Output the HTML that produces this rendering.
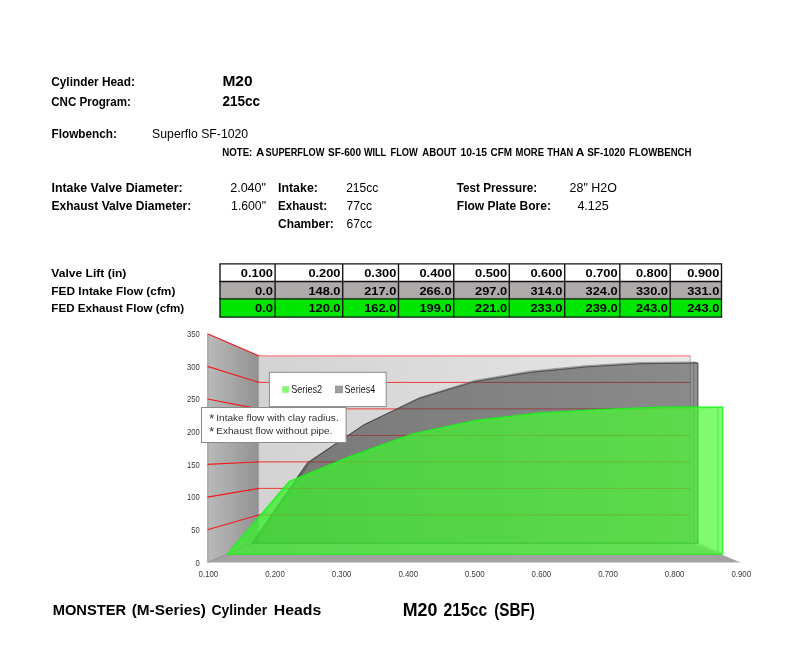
<!DOCTYPE html>
<html lang="en">
<head>
<meta charset="utf-8">
<title>M20 215cc (SBF) Flow Sheet</title>
<style>
html,body{margin:0;padding:0;background:#fff;}
body{width:800px;height:664px;position:relative;overflow:hidden;}
svg{position:absolute;left:0;top:0;display:block;will-change:transform;}
text{font-family:"Liberation Sans", Arial, sans-serif;}
.b{font-weight:bold;}
</style>
</head>
<body>
<svg width="800" height="664" viewBox="0 0 800 664">
<rect x="0" y="0" width="800" height="664" fill="#ffffff"/>
<g id="labels" fill="#000">
<text id="t0" class="b" x="51.20" y="86.00" font-size="13.0" textLength="83.70" lengthAdjust="spacingAndGlyphs">Cylinder Head:</text>
<text id="t1" class="b" x="51.20" y="105.70" font-size="13.0" textLength="79.70" lengthAdjust="spacingAndGlyphs">CNC Program:</text>
<text id="t2" class="b" x="222.40" y="86.10" font-size="14.5" textLength="30.20" lengthAdjust="spacingAndGlyphs">M20</text>
<text id="t3" class="b" x="222.40" y="105.70" font-size="14.5" textLength="37.60" lengthAdjust="spacingAndGlyphs">215cc</text>
<text id="t4" class="b" x="51.50" y="138.40" font-size="13.0" textLength="65.50" lengthAdjust="spacingAndGlyphs">Flowbench:</text>
<text id="t5" x="152.10" y="138.40" font-size="13.0" textLength="96.10" lengthAdjust="spacingAndGlyphs">Superflo SF-1020</text>
<text id="t6" class="b" y="156.40" font-size="10.4"><tspan x="222.30" textLength="30.00" lengthAdjust="spacingAndGlyphs">NOTE:</tspan> <tspan x="255.90" textLength="7.90" lengthAdjust="spacingAndGlyphs">A</tspan> <tspan x="265.60" textLength="58.90" lengthAdjust="spacingAndGlyphs">SUPERFLOW</tspan> <tspan x="328.00" textLength="33.00" lengthAdjust="spacingAndGlyphs">SF-600</tspan> <tspan x="364.00" textLength="22.00" lengthAdjust="spacingAndGlyphs">WILL</tspan> <tspan x="390.50" textLength="27.30" lengthAdjust="spacingAndGlyphs">FLOW</tspan> <tspan x="422.30" textLength="34.20" lengthAdjust="spacingAndGlyphs">ABOUT</tspan> <tspan x="460.50" textLength="26.50" lengthAdjust="spacingAndGlyphs">10-15</tspan> <tspan x="490.50" textLength="21.50" lengthAdjust="spacingAndGlyphs">CFM</tspan> <tspan x="515.50" textLength="28.50" lengthAdjust="spacingAndGlyphs">MORE</tspan> <tspan x="547.30" textLength="26.00" lengthAdjust="spacingAndGlyphs">THAN</tspan> <tspan x="575.80" textLength="8.20" lengthAdjust="spacingAndGlyphs">A</tspan> <tspan x="587.20" textLength="38.10" lengthAdjust="spacingAndGlyphs">SF-1020</tspan> <tspan x="629.00" textLength="62.50" lengthAdjust="spacingAndGlyphs">FLOWBENCH</tspan></text>
<text id="t7" class="b" x="51.50" y="191.90" font-size="13.0" textLength="131.10" lengthAdjust="spacingAndGlyphs">Intake Valve Diameter:</text>
<text id="t8" x="230.20" y="191.90" font-size="13.0" textLength="35.80" lengthAdjust="spacingAndGlyphs">2.040&quot;</text>
<text id="t9" class="b" x="278.00" y="191.90" font-size="13.0" textLength="39.90" lengthAdjust="spacingAndGlyphs">Intake:</text>
<text id="t10" x="346.20" y="191.90" font-size="13.0" textLength="32.00" lengthAdjust="spacingAndGlyphs">215cc</text>
<text id="t11" class="b" x="456.80" y="191.90" font-size="13.0" textLength="80.40" lengthAdjust="spacingAndGlyphs">Test Pressure:</text>
<text id="t12" x="569.60" y="191.90" font-size="13.0" textLength="47.30" lengthAdjust="spacingAndGlyphs">28&quot; H2O</text>
<text id="t13" class="b" x="51.50" y="210.00" font-size="13.0" textLength="139.80" lengthAdjust="spacingAndGlyphs">Exhaust Valve Diameter:</text>
<text id="t14" x="231.10" y="210.00" font-size="13.0" textLength="34.90" lengthAdjust="spacingAndGlyphs">1.600&quot;</text>
<text id="t15" class="b" x="278.00" y="210.00" font-size="13.0" textLength="49.00" lengthAdjust="spacingAndGlyphs">Exhaust:</text>
<text id="t16" x="346.50" y="210.00" font-size="13.0" textLength="25.50" lengthAdjust="spacingAndGlyphs">77cc</text>
<text id="t17" class="b" x="456.80" y="210.00" font-size="13.0" textLength="94.10" lengthAdjust="spacingAndGlyphs">Flow Plate Bore:</text>
<text id="t18" x="577.40" y="210.00" font-size="13.0" textLength="31.30" lengthAdjust="spacingAndGlyphs">4.125</text>
<text id="t19" class="b" x="278.00" y="227.60" font-size="13.0" textLength="55.80" lengthAdjust="spacingAndGlyphs">Chamber:</text>
<text id="t20" x="346.50" y="227.60" font-size="13.0" textLength="25.50" lengthAdjust="spacingAndGlyphs">67cc</text>
<text id="t21" class="b" x="51.30" y="276.80" font-size="11.2" textLength="75.10" lengthAdjust="spacingAndGlyphs">Valve Lift (in)</text>
<text id="t22" class="b" x="51.30" y="294.60" font-size="11.2" textLength="124.10" lengthAdjust="spacingAndGlyphs">FED Intake Flow (cfm)</text>
<text id="t23" class="b" x="51.30" y="312.20" font-size="11.2" textLength="132.85" lengthAdjust="spacingAndGlyphs">FED Exhaust Flow (cfm)</text>
<text id="t24" class="b" y="615.20" font-size="15.2"><tspan x="52.70" textLength="73.40" lengthAdjust="spacingAndGlyphs">MONSTER</tspan> <tspan x="131.70" textLength="74.20" lengthAdjust="spacingAndGlyphs">(M-Series)</tspan> <tspan x="211.50" textLength="55.70" lengthAdjust="spacingAndGlyphs">Cylinder</tspan> <tspan x="273.80" textLength="47.50" lengthAdjust="spacingAndGlyphs">Heads</tspan></text>
<text id="t25" class="b" y="615.50" font-size="18.2"><tspan x="402.70" textLength="34.60" lengthAdjust="spacingAndGlyphs">M20</tspan> <tspan x="443.50" textLength="43.80" lengthAdjust="spacingAndGlyphs">215cc</tspan> <tspan x="494.20" textLength="40.60" lengthAdjust="spacingAndGlyphs">(SBF)</tspan></text>
</g>
<g id="table">
<rect x="220.00" y="263.90" width="501.50" height="17.60" fill="#ffffff"/>
<rect x="220.00" y="281.50" width="501.50" height="17.30" fill="#aeaaaa"/>
<rect x="220.00" y="298.80" width="501.50" height="18.30" fill="#00e600"/>
<g stroke="#111" stroke-width="1.35" fill="none">
<line x1="219.35" y1="263.90" x2="722.15" y2="263.90"/>
<line x1="219.35" y1="281.50" x2="722.15" y2="281.50"/>
<line x1="219.35" y1="298.80" x2="722.15" y2="298.80"/>
<line x1="219.35" y1="317.10" x2="722.15" y2="317.10"/>
<line x1="220.00" y1="263.90" x2="220.00" y2="317.10"/>
<line x1="275.10" y1="263.90" x2="275.10" y2="317.10"/>
<line x1="342.70" y1="263.90" x2="342.70" y2="317.10"/>
<line x1="398.50" y1="263.90" x2="398.50" y2="317.10"/>
<line x1="453.75" y1="263.90" x2="453.75" y2="317.10"/>
<line x1="509.30" y1="263.90" x2="509.30" y2="317.10"/>
<line x1="564.70" y1="263.90" x2="564.70" y2="317.10"/>
<line x1="619.80" y1="263.90" x2="619.80" y2="317.10"/>
<line x1="670.20" y1="263.90" x2="670.20" y2="317.10"/>
<line x1="721.50" y1="263.90" x2="721.50" y2="317.10"/>
</g>
<g class="b" font-size="11.2" text-anchor="end" fill="#000">
<text x="272.90" y="276.70" textLength="32.10" lengthAdjust="spacingAndGlyphs">0.100</text>
<text x="340.50" y="276.70" textLength="32.10" lengthAdjust="spacingAndGlyphs">0.200</text>
<text x="396.30" y="276.70" textLength="32.10" lengthAdjust="spacingAndGlyphs">0.300</text>
<text x="451.55" y="276.70" textLength="32.10" lengthAdjust="spacingAndGlyphs">0.400</text>
<text x="507.10" y="276.70" textLength="32.10" lengthAdjust="spacingAndGlyphs">0.500</text>
<text x="562.50" y="276.70" textLength="32.10" lengthAdjust="spacingAndGlyphs">0.600</text>
<text x="617.60" y="276.70" textLength="32.10" lengthAdjust="spacingAndGlyphs">0.700</text>
<text x="668.00" y="276.70" textLength="32.10" lengthAdjust="spacingAndGlyphs">0.800</text>
<text x="719.30" y="276.70" textLength="32.10" lengthAdjust="spacingAndGlyphs">0.900</text>
<text x="272.90" y="294.70" textLength="18.00" lengthAdjust="spacingAndGlyphs">0.0</text>
<text x="340.50" y="294.70" textLength="32.10" lengthAdjust="spacingAndGlyphs">148.0</text>
<text x="396.30" y="294.70" textLength="32.10" lengthAdjust="spacingAndGlyphs">217.0</text>
<text x="451.55" y="294.70" textLength="32.10" lengthAdjust="spacingAndGlyphs">266.0</text>
<text x="507.10" y="294.70" textLength="32.10" lengthAdjust="spacingAndGlyphs">297.0</text>
<text x="562.50" y="294.70" textLength="32.10" lengthAdjust="spacingAndGlyphs">314.0</text>
<text x="617.60" y="294.70" textLength="32.10" lengthAdjust="spacingAndGlyphs">324.0</text>
<text x="668.00" y="294.70" textLength="32.10" lengthAdjust="spacingAndGlyphs">330.0</text>
<text x="719.30" y="294.70" textLength="32.10" lengthAdjust="spacingAndGlyphs">331.0</text>
<text x="272.90" y="312.00" textLength="18.00" lengthAdjust="spacingAndGlyphs">0.0</text>
<text x="340.50" y="312.00" textLength="32.10" lengthAdjust="spacingAndGlyphs">120.0</text>
<text x="396.30" y="312.00" textLength="32.10" lengthAdjust="spacingAndGlyphs">162.0</text>
<text x="451.55" y="312.00" textLength="32.10" lengthAdjust="spacingAndGlyphs">199.0</text>
<text x="507.10" y="312.00" textLength="32.10" lengthAdjust="spacingAndGlyphs">221.0</text>
<text x="562.50" y="312.00" textLength="32.10" lengthAdjust="spacingAndGlyphs">233.0</text>
<text x="617.60" y="312.00" textLength="32.10" lengthAdjust="spacingAndGlyphs">239.0</text>
<text x="668.00" y="312.00" textLength="32.10" lengthAdjust="spacingAndGlyphs">243.0</text>
<text x="719.30" y="312.00" textLength="32.10" lengthAdjust="spacingAndGlyphs">243.0</text>
</g>
</g>
<g id="chart">
<defs><linearGradient id="gSide" x1="0" x2="1" y1="0" y2="0"><stop offset="0" stop-color="#bababa"/><stop offset="1" stop-color="#919191"/></linearGradient><linearGradient id="gBack" x1="0" x2="1" y1="0" y2="0"><stop offset="0" stop-color="#d4d2d2"/><stop offset="1" stop-color="#e8e8e8"/></linearGradient><linearGradient id="gGreen" gradientUnits="userSpaceOnUse" x1="227" x2="722" y1="0" y2="0"><stop offset="0" stop-color="#38f02c"/><stop offset="1" stop-color="#4ef937"/></linearGradient><linearGradient id="gGray" x1="0" x2="1" y1="0" y2="0"><stop offset="0" stop-color="#3c3c3b"/><stop offset="1" stop-color="#4c4c4c"/></linearGradient></defs>
<polygon points="207.50,562.40 740.60,562.40 690.25,541.40 258.90,541.40" fill="#a2a2a2"/>
<polygon points="207.50,333.70 258.90,355.90 258.90,541.40 207.50,562.40" fill="url(#gSide)"/>
<line x1="207.80" y1="333.70" x2="207.80" y2="562.40" stroke="#8c8c8c" stroke-width="0.8"/>
<line x1="207.50" y1="562.40" x2="258.90" y2="541.40" stroke="#8a8a8a" stroke-width="0.9"/>
<rect x="258.90" y="355.90" width="431.35" height="185.50" fill="url(#gBack)"/>
<line x1="690.25" y1="355.90" x2="690.25" y2="541.40" stroke="#9a9a9a" stroke-width="0.7"/>
<line x1="207.50" y1="529.73" x2="258.90" y2="514.90" stroke="#f21a1a" stroke-width="1.15"/>
<line x1="258.90" y1="514.90" x2="690.25" y2="514.90" stroke="#ee3a3a" stroke-width="1.0"/>
<line x1="207.50" y1="497.06" x2="258.90" y2="488.40" stroke="#f21a1a" stroke-width="1.15"/>
<line x1="258.90" y1="488.40" x2="690.25" y2="488.40" stroke="#ee3a3a" stroke-width="1.0"/>
<line x1="207.50" y1="464.39" x2="258.90" y2="461.90" stroke="#f21a1a" stroke-width="1.15"/>
<line x1="258.90" y1="461.90" x2="690.25" y2="461.90" stroke="#ee3a3a" stroke-width="1.0"/>
<line x1="207.50" y1="431.71" x2="258.90" y2="435.40" stroke="#f21a1a" stroke-width="1.15"/>
<line x1="258.90" y1="435.40" x2="690.25" y2="435.40" stroke="#ee3a3a" stroke-width="1.0"/>
<line x1="207.50" y1="399.04" x2="258.90" y2="408.90" stroke="#f21a1a" stroke-width="1.15"/>
<line x1="258.90" y1="408.90" x2="690.25" y2="408.90" stroke="#ee3a3a" stroke-width="1.0"/>
<line x1="207.50" y1="366.37" x2="258.90" y2="382.40" stroke="#f21a1a" stroke-width="1.15"/>
<line x1="258.90" y1="382.40" x2="690.25" y2="382.40" stroke="#ee3a3a" stroke-width="1.0"/>
<line x1="207.50" y1="333.70" x2="258.90" y2="355.90" stroke="#f21a1a" stroke-width="1.15"/>
<line x1="258.90" y1="355.90" x2="690.25" y2="355.90" stroke="#ff7c84" stroke-width="1.2"/>
<polygon points="251.60,543.50 307.39,462.84 363.17,425.23 418.96,398.53 474.75,381.63 530.54,372.37 586.32,366.92 642.11,363.65 697.90,363.10 693.50,361.90 638.81,362.44 584.12,365.71 529.44,371.14 474.75,380.39 420.06,397.25 365.38,423.89 310.69,461.42 256.00,541.90" fill="#9c9c9b" fill-opacity="0.75" stroke="#585858" stroke-opacity="0.8" stroke-width="0.5" stroke-linejoin="round"/>
<polygon points="693.50,361.90 697.90,363.10 697.90,543.50 693.50,541.90" fill="#555555" fill-opacity="0.08" stroke="#505050" stroke-opacity="0.75" stroke-width="0.5"/>
<polygon points="251.60,543.50 307.39,462.84 363.17,425.23 418.96,398.53 474.75,381.63 530.54,372.37 586.32,366.92 642.11,363.65 697.90,363.10 697.90,543.50 251.60,543.50" fill="url(#gGray)" fill-opacity="0.6" stroke="#3c3c3c" stroke-opacity="0.9" stroke-width="0.8" stroke-linejoin="round"/>
<polygon points="251.60,543.50 307.39,478.10 363.17,455.21 418.96,435.04 474.75,423.05 530.54,416.51 586.32,413.24 642.11,411.06 697.90,411.06 697.90,543.50 251.60,543.50" fill="#3cd838" fill-opacity="0.08" stroke="#38c838" stroke-opacity="0.35" stroke-width="0.5"/>
<polygon points="227.05,554.20 289.01,481.56 350.98,456.13 412.94,433.74 474.90,420.42 536.86,413.15 598.83,409.52 660.79,407.10 722.75,407.10 697.90,411.06 642.11,411.06 586.32,413.24 530.54,416.51 474.75,423.05 418.96,435.04 363.17,455.21 307.39,478.10 251.60,543.50" fill="#40e040" fill-opacity="0.22"/>
<polygon points="227.05,554.20 289.01,481.56 350.98,456.13 412.94,433.74 474.90,420.42 536.86,413.15 598.83,409.52 660.79,407.10 722.75,407.10 722.75,554.20 227.05,554.20" fill="url(#gGreen)" fill-opacity="0.71" stroke="#18f418" stroke-width="1.1" stroke-linejoin="round"/>
<line x1="258.90" y1="514.90" x2="690.25" y2="514.90" stroke="#c87828" stroke-opacity="0.2" stroke-width="0.8"/>
<line x1="258.90" y1="488.40" x2="690.25" y2="488.40" stroke="#c87828" stroke-opacity="0.2" stroke-width="0.8"/>
<line x1="258.90" y1="461.90" x2="690.25" y2="461.90" stroke="#c87828" stroke-opacity="0.2" stroke-width="0.8"/>
<line x1="258.90" y1="435.40" x2="690.25" y2="435.40" stroke="#c87828" stroke-opacity="0.2" stroke-width="0.8"/>
<line x1="718" y1="407.60" x2="718" y2="552.40" stroke="#38e038" stroke-width="0.7"/>
<line x1="697.90" y1="411.06" x2="697.90" y2="543.50" stroke="#44d444" stroke-width="0.7"/>
<line x1="693.50" y1="409.06" x2="693.50" y2="541.90" stroke="#44d444" stroke-opacity="0.8" stroke-width="0.6"/>
<line x1="251.60" y1="543.50" x2="697.90" y2="543.50" stroke="#3ccc3c" stroke-opacity="0.8" stroke-width="0.6"/>
<line x1="229.65" y1="553.60" x2="291.21" y2="480.96" stroke="#30f030" stroke-width="0.8"/>
<line x1="227.05" y1="554.20" x2="251.60" y2="543.50" stroke="#48d048" stroke-width="0.6"/>
<line x1="722.75" y1="554.20" x2="697.90" y2="543.50" stroke="#48d048" stroke-width="0.6"/>
<text x="195.40" y="565.80" textLength="4.3" lengthAdjust="spacingAndGlyphs" font-family='&quot;Liberation Sans&quot;, Arial, sans-serif' font-size="8.8" fill="#3a3a3a">0</text>
<text x="191.20" y="533.13" textLength="8.5" lengthAdjust="spacingAndGlyphs" font-family='&quot;Liberation Sans&quot;, Arial, sans-serif' font-size="8.8" fill="#3a3a3a">50</text>
<text x="186.90" y="500.46" textLength="12.8" lengthAdjust="spacingAndGlyphs" font-family='&quot;Liberation Sans&quot;, Arial, sans-serif' font-size="8.8" fill="#3a3a3a">100</text>
<text x="186.90" y="467.79" textLength="12.8" lengthAdjust="spacingAndGlyphs" font-family='&quot;Liberation Sans&quot;, Arial, sans-serif' font-size="8.8" fill="#3a3a3a">150</text>
<text x="186.90" y="435.11" textLength="12.8" lengthAdjust="spacingAndGlyphs" font-family='&quot;Liberation Sans&quot;, Arial, sans-serif' font-size="8.8" fill="#3a3a3a">200</text>
<text x="186.90" y="402.44" textLength="12.8" lengthAdjust="spacingAndGlyphs" font-family='&quot;Liberation Sans&quot;, Arial, sans-serif' font-size="8.8" fill="#3a3a3a">250</text>
<text x="186.90" y="369.77" textLength="12.8" lengthAdjust="spacingAndGlyphs" font-family='&quot;Liberation Sans&quot;, Arial, sans-serif' font-size="8.8" fill="#3a3a3a">300</text>
<text x="186.90" y="337.10" textLength="12.8" lengthAdjust="spacingAndGlyphs" font-family='&quot;Liberation Sans&quot;, Arial, sans-serif' font-size="8.8" fill="#3a3a3a">350</text>
<text x="198.60" y="577.1" textLength="19.6" lengthAdjust="spacingAndGlyphs" font-family='&quot;Liberation Sans&quot;, Arial, sans-serif' font-size="8.8" fill="#3a3a3a">0.100</text>
<text x="265.20" y="577.1" textLength="19.6" lengthAdjust="spacingAndGlyphs" font-family='&quot;Liberation Sans&quot;, Arial, sans-serif' font-size="8.8" fill="#3a3a3a">0.200</text>
<text x="331.80" y="577.1" textLength="19.6" lengthAdjust="spacingAndGlyphs" font-family='&quot;Liberation Sans&quot;, Arial, sans-serif' font-size="8.8" fill="#3a3a3a">0.300</text>
<text x="398.40" y="577.1" textLength="19.6" lengthAdjust="spacingAndGlyphs" font-family='&quot;Liberation Sans&quot;, Arial, sans-serif' font-size="8.8" fill="#3a3a3a">0.400</text>
<text x="465.00" y="577.1" textLength="19.6" lengthAdjust="spacingAndGlyphs" font-family='&quot;Liberation Sans&quot;, Arial, sans-serif' font-size="8.8" fill="#3a3a3a">0.500</text>
<text x="531.60" y="577.1" textLength="19.6" lengthAdjust="spacingAndGlyphs" font-family='&quot;Liberation Sans&quot;, Arial, sans-serif' font-size="8.8" fill="#3a3a3a">0.600</text>
<text x="598.20" y="577.1" textLength="19.6" lengthAdjust="spacingAndGlyphs" font-family='&quot;Liberation Sans&quot;, Arial, sans-serif' font-size="8.8" fill="#3a3a3a">0.700</text>
<text x="664.80" y="577.1" textLength="19.6" lengthAdjust="spacingAndGlyphs" font-family='&quot;Liberation Sans&quot;, Arial, sans-serif' font-size="8.8" fill="#3a3a3a">0.800</text>
<text x="731.40" y="577.1" textLength="19.6" lengthAdjust="spacingAndGlyphs" font-family='&quot;Liberation Sans&quot;, Arial, sans-serif' font-size="8.8" fill="#3a3a3a">0.900</text>
<rect x="269.4" y="372.3" width="116.8" height="34.3" fill="#ffffff" stroke="#8a8a8a" stroke-width="1"/>
<rect x="282.2" y="386.1" width="6.7" height="6.7" fill="#86f878"/>
<rect x="335.6" y="386.1" width="6.7" height="6.7" fill="#a0a09d" stroke="#7c7c7c" stroke-width="0.7"/>
<text x="291.2" y="392.7" textLength="31" lengthAdjust="spacingAndGlyphs" font-family='&quot;Liberation Sans&quot;, Arial, sans-serif' font-size="10.6" fill="#1a1a1a">Series2</text>
<text x="344.6" y="392.7" textLength="30.6" lengthAdjust="spacingAndGlyphs" font-family='&quot;Liberation Sans&quot;, Arial, sans-serif' font-size="10.6" fill="#1a1a1a">Series4</text>
<rect x="201.5" y="407.5" width="144.6" height="35.0" fill="#ffffff" stroke="#8a8a8a" stroke-width="1"/>
<text y="421.0" font-family='&quot;Liberation Sans&quot;, Arial, sans-serif' font-size="9.6" fill="#303030"><tspan x="209.3" dy="1.9" font-size="12.6">*</tspan> <tspan x="216.3" dy="-1.9" textLength="122.4" lengthAdjust="spacingAndGlyphs">Intake flow with clay radius.</tspan></text>
<text y="434.0" font-family='&quot;Liberation Sans&quot;, Arial, sans-serif' font-size="9.6" fill="#303030"><tspan x="209.3" dy="1.9" font-size="12.6">*</tspan> <tspan x="216.3" dy="-1.9" textLength="116.2" lengthAdjust="spacingAndGlyphs">Exhaust flow without pipe.</tspan></text>
</g>
</svg>
</body>
</html>
